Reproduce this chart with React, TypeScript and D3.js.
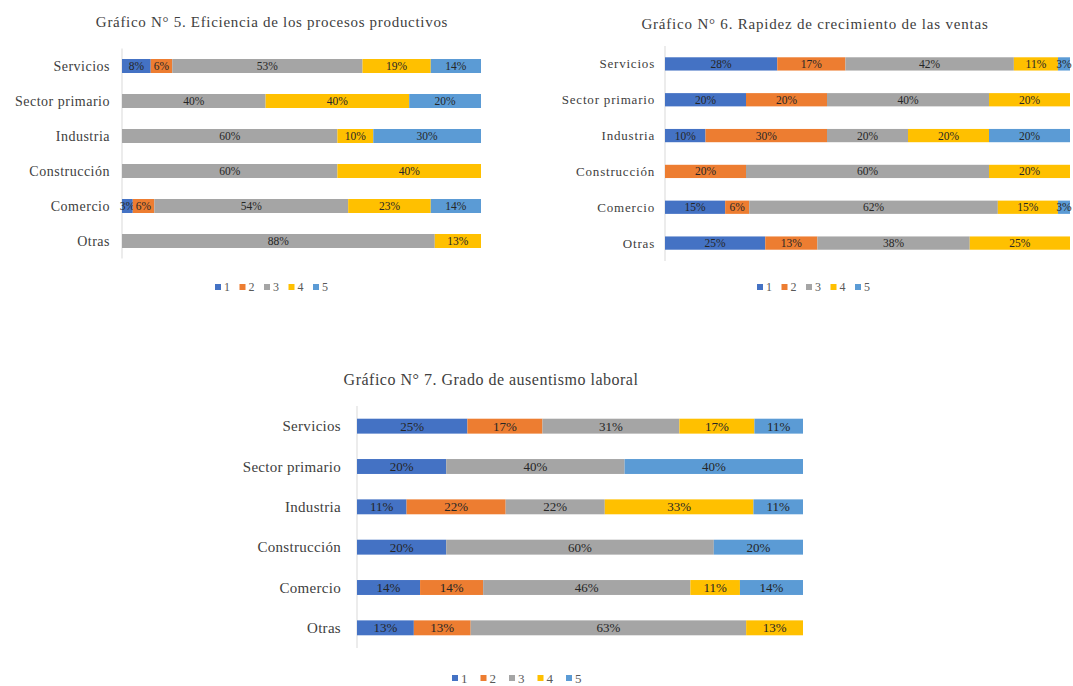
import React from "react";
import * as d3 from "d3";

// Survey categories (top to bottom) and the five rating levels
const categories = ["Servicios", "Sector primario", "Industria", "Construcción", "Comercio", "Otras"];
const levels = ["1", "2", "3", "4", "5"];
const levelColors = ["#4472C4", "#ED7D31", "#A5A5A5", "#FFC000", "#5B9BD5"];

// Gráfico 5 – percentage per level (1..5) for each category
const eficiencia = [
  [8, 6, 53, 19, 14],
  [0, 0, 40, 40, 20],
  [0, 0, 60, 10, 30],
  [0, 0, 60, 40, 0],
  [3, 6, 54, 23, 14],
  [0, 0, 88, 13, 0],
];

// Gráfico 6
const rapidez = [
  [28, 17, 42, 11, 3],
  [20, 20, 40, 20, 0],
  [10, 30, 20, 20, 20],
  [0, 20, 60, 20, 0],
  [15, 6, 62, 15, 3],
  [25, 13, 38, 25, 0],
];

// Gráfico 7
const ausentismo = [
  [25, 17, 31, 17, 11],
  [20, 0, 40, 0, 40],
  [11, 22, 22, 33, 11],
  [20, 0, 60, 0, 20],
  [14, 14, 46, 11, 14],
  [13, 13, 63, 13, 0],
];

const titles = [
  "Gráfico  N° 5. Eficiencia  de los procesos productivos",
  "Gráfico  N° 6. Rapidez  de crecimiento  de las ventas",
  "Gráfico  N° 7. Grado de ausentismo  laboral",
];

type Layout = {
  x0: number;
  x1: number;
  top: number;
  bottom: number;
  barPad: number;
  titleX: number;
  titleY: number;
  titleSize: number;
  titleSpacing: number;
  catSize: number;
  catSpacing: number;
  catGap: number;
  labelSize: number;
  legendX: number;
  legendY: number;
  legendStep: number;
  legendSize: number;
};

const FONT = "'Liberation Serif', 'Times New Roman', serif";

function StackedChart({ data, title, L }: { data: number[][]; title: string; L: Layout }) {
  const rows = categories.map((c, i) => {
    const r: any = { cat: c };
    levels.forEach((k, j) => (r[k] = data[i][j]));
    return r;
  });
  const series = d3.stack<any>().keys(levels).offset(d3.stackOffsetExpand)(rows);
  const x = d3.scaleLinear().domain([0, 1]).range([L.x0, L.x1]);
  const y = d3
    .scaleBand<string>()
    .domain(categories)
    .range([L.top, L.bottom])
    .paddingInner(L.barPad)
    .paddingOuter(L.barPad / 2);
  const bw = y.bandwidth();

  return (
    <g fontFamily={FONT}>
      <text
        x={L.titleX}
        y={L.titleY}
        textAnchor="middle"
        fontSize={L.titleSize}
        letterSpacing={L.titleSpacing}
        fill="#404040"
      >
        {title}
      </text>
      <line x1={L.x0} x2={L.x0} y1={L.top} y2={L.bottom} stroke="#d9d9d9" strokeWidth={1} />
      {categories.map((c) => (
        <text
          key={c}
          x={L.x0 - L.catGap}
          y={(y(c) as number) + bw / 2}
          dy="0.35em"
          textAnchor="end"
          fontSize={L.catSize}
          letterSpacing={L.catSpacing}
          fill="#404040"
        >
          {c}
        </text>
      ))}
      {series.map((s, j) => (
        <g key={s.key} fill={levelColors[j]}>
          {s.map((d, i) => {
            const v = data[i][j];
            if (!v) return null;
            const xa = x(d[0]);
            const xb = x(d[1]);
            return (
              <g key={i}>
                <rect x={xa} y={y(categories[i])} width={xb - xa} height={bw} />
                <text
                  x={(xa + xb) / 2}
                  y={(y(categories[i]) as number) + bw / 2}
                  dy="0.35em"
                  textAnchor="middle"
                  fontSize={L.labelSize}
                  fill="#262626"
                >
                  {v}%
                </text>
              </g>
            );
          })}
        </g>
      ))}
      {levels.map((k, j) => {
        const lx = L.legendX + j * L.legendStep;
        return (
          <g key={k}>
            <rect x={lx} y={L.legendY - 3} width={6} height={6} fill={levelColors[j]} />
            <text x={lx + 9} y={L.legendY} dy="0.35em" fontSize={L.legendSize} fill="#595959">
              {k}
            </text>
          </g>
        );
      })}
    </g>
  );
}

const layouts: Layout[] = [
  {
    x0: 122, x1: 481, top: 48.5, bottom: 258.5, barPad: 0.6,
    titleX: 272, titleY: 27, titleSize: 15, titleSpacing: 0.7,
    catSize: 14, catSpacing: 0.5, catGap: 12, labelSize: 11.5,
    legendX: 215, legendY: 287, legendStep: 24.5, legendSize: 12,
  },
  {
    x0: 665, x1: 1070, top: 46, bottom: 261, barPad: 0.63,
    titleX: 815, titleY: 29, titleSize: 15, titleSpacing: 0.8,
    catSize: 13, catSpacing: 0.8, catGap: 10, labelSize: 11.5,
    legendX: 757, legendY: 287, legendStep: 24.5, legendSize: 12,
  },
  {
    x0: 357, x1: 803, top: 406, bottom: 648, barPad: 0.63,
    titleX: 491, titleY: 385, titleSize: 16, titleSpacing: 0.5,
    catSize: 15, catSpacing: 0.3, catGap: 16, labelSize: 13,
    legendX: 452, legendY: 678, legendStep: 28.5, legendSize: 13,
  },
];

export default function App() {
  const sets = [eficiencia, rapidez, ausentismo];
  return (
    <svg width={1073} height={686} style={{ position: "absolute", left: 0, top: 0, background: "#fff" }}>
      <rect width={1073} height={686} fill="#fff" />
      {sets.map((d, i) => (
        <StackedChart key={i} data={d} title={titles[i]} L={layouts[i]} />
      ))}
    </svg>
  );
}
